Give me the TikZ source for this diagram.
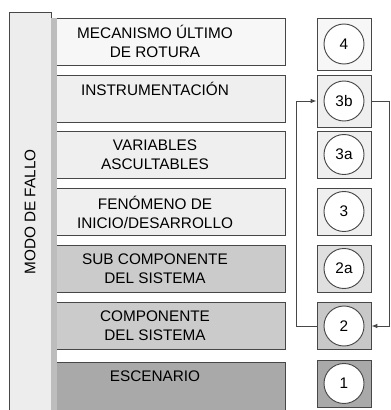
\documentclass[tikz,border=0pt]{standalone}
\usepackage{fontspec}
\setmainfont{Liberation Sans}
\usetikzlibrary{positioning}
\usetikzlibrary{arrows.meta}

\definecolor{borde}{HTML}{474747}
\definecolor{gris1}{HTML}{F7F7F7}
\definecolor{gris2}{HTML}{EFEFEF}
\definecolor{gris3}{HTML}{CBCBCB}
\definecolor{gris4}{HTML}{A9A9A9}
\definecolor{gris5}{HTML}{DFDFDF}
\definecolor{franja}{HTML}{BDBDBD}

\begin{document}
\begin{tikzpicture}[x=0.75pt, y=-0.75pt,
  caja/.style={draw=borde, line width=0.6pt, inner sep=0pt,
    minimum width=234*0.75pt, minimum height=47*0.75pt},
  nivel/.style={draw=borde, line width=0.6pt, inner sep=0pt,
    minimum width=54*0.75pt, minimum height=47*0.75pt},
  circulo/.style={circle, draw=borde, line width=0.7pt, fill=white,
    minimum size=40*0.75pt, inner sep=0pt, font=\fontsize{11.5}{13}\selectfont},
  texto/.style={align=center, font=\fontsize{11.5}{14.2}\selectfont},
  flecha/.style={draw=borde, line width=0.7pt, -{Latex[length=4.5pt, width=3.5pt]}}]

\def\xt{155}

\useasboundingbox (0,0) rectangle (391,410);

% 左侧竖条
\draw[draw=borde, line width=0.6pt, fill=gris2!85!gris5] (9,12) rectangle (51,416);
\node[rotate=90, texto] (modo) at (30,212) {MODO DE FALLO};

% 中间方框
\node[caja, fill=gris1] (c4) at (168,41.5) {};
\node[caja, fill=gris2] (c3b) at (168,98.5) {};
\node[caja, fill=gris2] (c3a) at (168,155) {};
\node[caja, fill=gris2] (c3) at (168,212) {};
\node[caja, fill=gris3] (c2a) at (168,268.5) {};
\node[caja, fill=gris3] (c2) at (168,326) {};
\node[caja, fill=gris4, minimum height=50*0.75pt] (c1) at (168,387) {};
\fill[franja] (51,18) rectangle (57,416);

\node[texto] (t4) at (\xt,41.5) {MECANISMO ÚLTIMO\\DE ROTURA};
\node[texto] (t3b) at (\xt,89) {INSTRUMENTACIÓN};
\node[texto] (t3a) at (\xt,155) {VARIABLES\\ASCULTABLES};
\node[texto] (t3) at (\xt,212) {FENÓMENO DE\\INICIO/DESARROLLO};
\node[texto] (t2a) at (\xt,268.5) {SUB COMPONENTE\\DEL SISTEMA};
\node[texto] (t2) at (\xt,326) {COMPONENTE\\DEL SISTEMA};
\node[texto] (t1) at (\xt,376.5) {ESCENARIO};

% 右侧编号
\node[nivel, fill=gris1, minimum height=52*0.75pt] (d4) at (344,44) {};
\node[nivel, fill=gris2, minimum height=52*0.75pt] (d3b) at (344,101) {};
\node[nivel, fill=gris2] (d3a) at (344,154.5) {};
\node[nivel, fill=gris2] (d3) at (344,211.5) {};
\node[nivel, fill=gris5] (d2a) at (344,268.5) {};
\node[nivel, fill=gris3!90!gris4] (d2) at (344,326) {};
\node[nivel, fill=gris4] (d1) at (344,383.5) {};

\node[circulo] (n4) at (d4) {4};
\node[circulo] (n3b) at (d3b) {3b};
\node[circulo] (n3a) at (d3a) {3a};
\node[circulo] (n3) at (d3) {3};
\node[circulo] (n2a) at (d2a) {2a};
\node[circulo] (n2) at (d2) {2};
\node[circulo] (n1) at (d1) {1};

\draw[flecha] (d2.west) -- ++(-20,0) |- (d3b.west);
\draw[flecha] (d3b.east) -- ++(18,0) |- (d2.east);

\end{tikzpicture}
\end{document}
